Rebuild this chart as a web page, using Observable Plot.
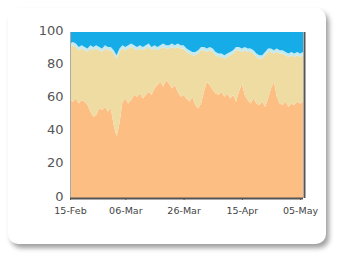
<!DOCTYPE html>
<html>
<head>
<meta charset="utf-8">
<script src="https://cdn.jsdelivr.net/npm/d3@7"></script>
<script src="https://cdn.jsdelivr.net/npm/@observablehq/plot@0.6"></script>
<style>
  html, body { margin: 0; padding: 0; background: #fff; }
  #wrap { position: relative; width: 339px; height: 260px; overflow: hidden; }
  #card { position: absolute; left: 8px; top: 8px; width: 318px; height: 236px; background: #fff;
          border-radius: 10px; box-shadow: 3px 4px 5px rgba(0,0,0,0.38); }
  #chart { position: absolute; left: 0; top: 0; }
</style>
</head>
<body>
<div id="wrap"><div id="card"></div><div id="chart"></div></div>
<script>
const startDate = "2021-02-15";
const seriesNames = ["A", "B", "C", "D"];
const seriesColors = ["#fdbe83", "#efdca2", "#c4e9ee", "#16ace8"];
const tickDates = ["2021-02-15", "2021-03-06", "2021-03-26", "2021-04-15", "2021-05-05"];
const tickLabels = ["15-Feb", "06-Mar", "26-Mar", "15-Apr", "05-May"];
const yTicks = [0, 20, 40, 60, 80, 100];

const seriesA = [59,58,60,57,59,58,56,52,49,50,54,53,55,52,54,44,37,45,58,60,57,59,62,61,63,60,62,64,62,66,68,70,67,71,69,66,68,64,61,62,60,58,61,56,54,57,64,70,68,65,63,62,64,61,63,60,62,58,64,69,62,59,57,60,57,56,58,55,60,66,70,61,57,56,58,55,57,56,58,57,58];
const seriesB = [32,34,31,32,31,31,32,38,40,40,35,35,35,37,35,43,47,43,32,29,33,32,28,28,27,29,28,27,27,24,21,20,24,19,21,25,22,27,29,28,28,29,25,30,33,32,25,18,21,23,23,23,21,23,22,26,25,31,25,19,27,29,31,27,28,28,26,31,28,22,17,27,30,31,28,30,29,29,28,28,28];
const seriesC = [2,2,2,2,2,2,2,2,2,2,2,2,2,2,2,2,2,2,2,2,2,2,2,2,2,2,2,2,2,2,2,2,2,2,2,2,2,2,2,2,2,2,2,2,2,2,2,2,2,2,2,2,2,2,2,2,2,2,2,2,2,2,2,2,2,2,2,2,2,2,2,2,2,2,2,2,2,2,2,2,2];
const seriesD = [7,6,7,9,8,9,10,8,9,8,9,10,8,9,9,11,14,10,8,9,8,7,8,9,8,9,8,7,9,8,9,8,7,8,8,7,8,7,8,8,10,11,12,12,11,9,9,10,9,10,12,13,13,14,13,12,11,9,9,10,9,10,10,11,13,14,14,12,10,10,11,10,11,11,12,13,12,13,12,13,12];

const start = new Date(startDate);
const allSeries = [seriesA, seriesB, seriesC, seriesD];
const rows = [];
allSeries.forEach((vals, si) => {
  vals.forEach((v, i) => rows.push({date: d3.utcDay.offset(start, i), value: v, series: seriesNames[si]}));
});
const ticks = tickDates.map(d => new Date(d));
const labelFor = new Map(ticks.map((t, i) => [+t, tickLabels[i]]));
const end = d3.utcDay.offset(start, seriesA.length - 1);

const chart = Plot.plot({
  width: 339,
  height: 260,
  marginLeft: 70,
  marginRight: 36,
  marginTop: 32,
  marginBottom: 62,
  style: {background: "transparent", fontFamily: "DejaVu Sans, sans-serif", color: "#555"},
  x: {type: "utc", domain: [start, end], label: null},
  y: {domain: [0, 100], label: null},
  color: {domain: seriesNames, range: seriesColors},
  marks: [
    Plot.areaY(rows, {x: "date", y: "value", fill: "series", order: seriesNames, curve: "linear"}),
    Plot.ruleX([start], {stroke: "#aaa", strokeWidth: 1}),
    Plot.ruleX([end], {stroke: "#555", strokeWidth: 2, dx: 1}),
    Plot.ruleY([0], {stroke: "#555", strokeWidth: 2}),
    Plot.axisY({ticks: yTicks, tickSize: 0, tickPadding: 7, fontSize: 13, fill: "#555", dy: -2}),
    Plot.axisX({ticks: ticks, tickFormat: d => labelFor.get(+d) ?? "", tickSize: 2, tickPadding: 7, fontSize: 9.5, fill: "#444", label: null})
  ]
});
document.getElementById("chart").appendChild(chart);
</script>
</body>
</html>
